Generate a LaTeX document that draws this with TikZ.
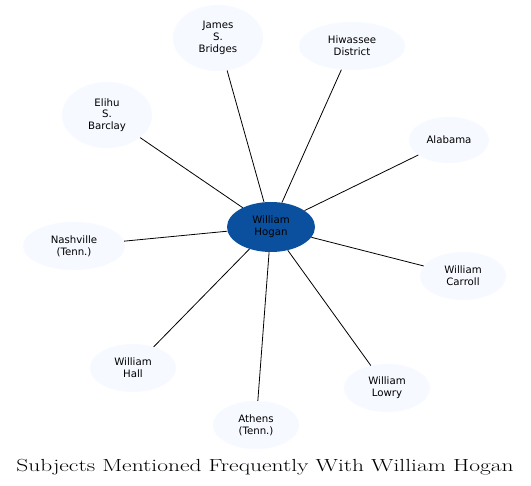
\documentclass[tikz,border=0pt]{standalone}
\usepackage{fontspec}
\newfontfamily\nodefont{DejaVu Sans}
\usetikzlibrary{shapes.geometric}
\definecolor{hub}{RGB}{11,80,158}
\definecolor{leaf}{RGB}{246,249,255}
\begin{document}
\begin{tikzpicture}[x=1pt,y=-1pt,
  leafnode/.style={ellipse,fill=leaf,draw=none,inner sep=0pt,font=\nodefont\fontsize{10.2}{11.8}\selectfont,align=center},
  edge/.style={draw=black,line width=0.8pt}]
\useasboundingbox (0,0) rectangle (531,486);
\fill[white] (0,0) rectangle (531,486);
\node[leafnode,minimum width=90,minimum height=66] (bridges) at (218,38) {James\\S.\\Bridges};
\node[leafnode,minimum width=106,minimum height=48] (hiwassee) at (352,46) {Hiwassee\\District};
\node[leafnode,minimum width=90,minimum height=66] (barclay) at (107,115) {Elihu\\S.\\Barclay};
\node[leafnode,minimum width=80,minimum height=46] (alabama) at (449,140) {Alabama};
\node[leafnode,minimum width=102,minimum height=48] (nashville) at (74,246) {Nashville\\(Tenn.)};
\node[leafnode,minimum width=86,minimum height=48] (carroll) at (463,276) {William\\Carroll};
\node[leafnode,minimum width=86,minimum height=48] (hall) at (133,368) {William\\Hall};
\node[leafnode,minimum width=86,minimum height=48] (lowry) at (387,388) {William\\Lowry};
\node[leafnode,minimum width=86,minimum height=48] (athens) at (256,425) {Athens\\(Tenn.)};
\node[leafnode,fill=hub,minimum width=88,minimum height=50] (hogan) at (271,227) {William\\Hogan};
\foreach \n in {bridges,hiwassee,barclay,alabama,nashville,carroll,hall,lowry,athens}
  \draw[edge] (hogan) -- (\n);
\node[font=\fontsize{17.5}{20}\selectfont,anchor=base,inner sep=0pt] (title) at (265,472) {\scalebox{1.34}[1]{Subjects Mentioned Frequently With William Hogan}};
\end{tikzpicture}
\end{document}
